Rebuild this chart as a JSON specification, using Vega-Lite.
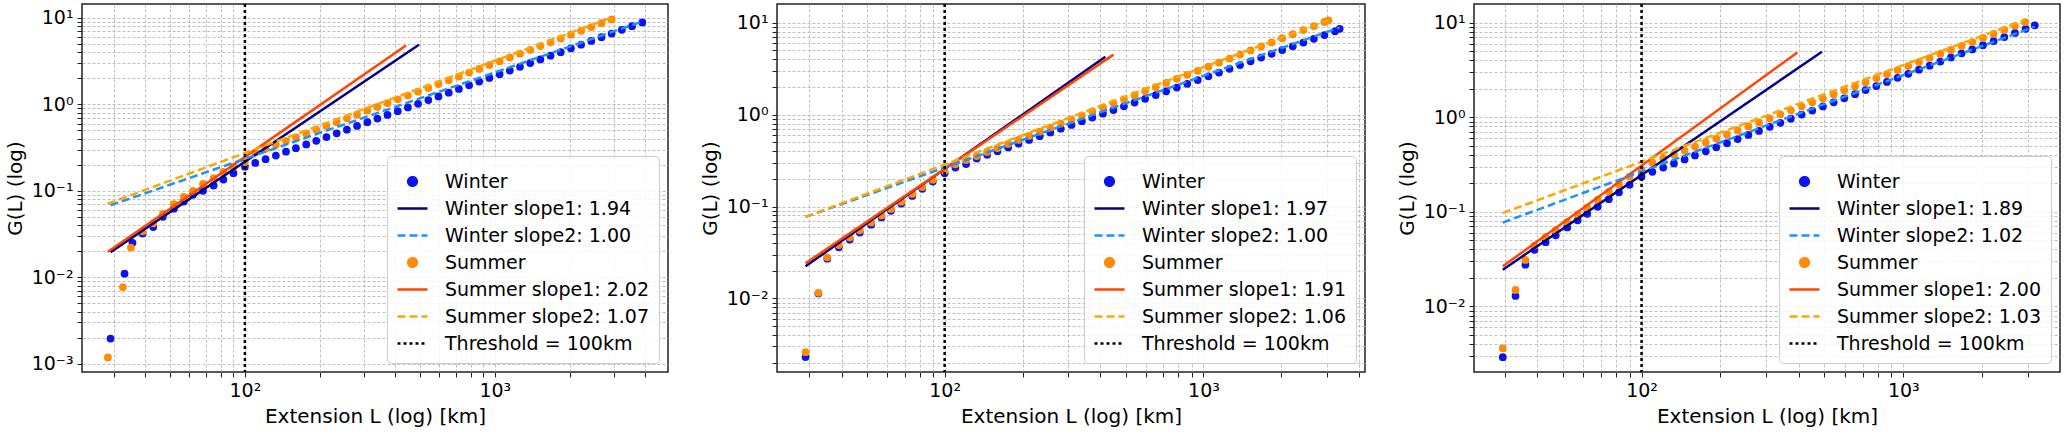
{
  "$schema": "https://vega.github.io/schema/vega-lite/v6.json",
  "padding": {"left": 4, "top": 2, "right": 0, "bottom": 0},
  "spacing": 30,
  "resolve": {"scale": {"color": "independent"}, "legend": {"color": "independent"}},
  "config": {
    "font": "DejaVu Sans",
    "view": {"stroke": "#222", "strokeWidth": 1.5},
    "axis": {"labelFontSize": 19, "titleFontSize": 20, "titleFontWeight": "normal", "labelColor": "#000", "titleColor": "#000",
      "domain": false, "tickColor": "#222", "tickSize": 5, "gridColor": "#b0b0b0", "gridDash": [3, 2], "gridOpacity": 0.8, "labelFlush": false, "labelPadding": 4, "titlePadding": 6},
    "legend": {"orient": "bottom-right", "offset": 9, "fillColor": "rgba(255,255,255,0.85)", "strokeColor": "#cccccc", "padding": 9,
      "cornerRadius": 4, "labelFontSize": 19, "labelColor": "#000", "labelLimit": 400, "rowPadding": 0, "symbolStrokeWidth": 2.5, "labelOffset": 16, "title": null,
      "symbolType": "stroke", "symbolSize": 900}
  },
  "datasets": {
    "p1": [
      {"x":29,"y":0.00195,"s":"Winter"},{"x":33,"y":0.011,"s":"Winter"},{"x":35.5,"y":0.025,"s":"Winter"},{"x":39,"y":0.032,"s":"Winter"},{"x":43,"y":0.038,"s":"Winter"},{"x":47,"y":0.05,"s":"Winter"},{"x":52,"y":0.062,"s":"Winter"},{"x":57,"y":0.075,"s":"Winter"},{"x":62,"y":0.09,"s":"Winter"},{"x":68,"y":0.1,"s":"Winter"},{"x":75,"y":0.115,"s":"Winter"},{"x":82,"y":0.135,"s":"Winter"},{"x":90,"y":0.16,"s":"Winter"},{"x":100,"y":0.19,"s":"Winter"},
      {"x":110,"y":0.21,"s":"Winter"},{"x":121,"y":0.232,"s":"Winter"},{"x":133,"y":0.256,"s":"Winter"},{"x":146,"y":0.283,"s":"Winter"},{"x":160,"y":0.311,"s":"Winter"},{"x":176,"y":0.344,"s":"Winter"},{"x":193,"y":0.379,"s":"Winter"},{"x":212,"y":0.418,"s":"Winter"},{"x":233,"y":0.462,"s":"Winter"},{"x":256,"y":0.51,"s":"Winter"},{"x":281,"y":0.562,"s":"Winter"},{"x":309,"y":0.621,"s":"Winter"},{"x":339,"y":0.685,"s":"Winter"},{"x":372,"y":0.755,"s":"Winter"},{"x":409,"y":0.834,"s":"Winter"},{"x":449,"y":0.92,"s":"Winter"},{"x":493,"y":1.014,"s":"Winter"},{"x":542,"y":1.121,"s":"Winter"},{"x":595,"y":1.236,"s":"Winter"},{"x":654,"y":1.365,"s":"Winter"},{"x":718,"y":1.506,"s":"Winter"},{"x":789,"y":1.662,"s":"Winter"},{"x":866,"y":1.833,"s":"Winter"},{"x":951,"y":2.022,"s":"Winter"},{"x":1045,"y":2.233,"s":"Winter"},{"x":1148,"y":2.464,"s":"Winter"},{"x":1261,"y":2.719,"s":"Winter"},{"x":1385,"y":3.002,"s":"Winter"},{"x":1521,"y":3.312,"s":"Winter"},{"x":1671,"y":3.656,"s":"Winter"},{"x":1835,"y":4.02,"s":"Winter"},{"x":2016,"y":4.452,"s":"Winter"},{"x":2214,"y":4.912,"s":"Winter"},{"x":2432,"y":5.421,"s":"Winter"},{"x":2671,"y":5.981,"s":"Winter"},{"x":2934,"y":6.601,"s":"Winter"},{"x":3223,"y":7.288,"s":"Winter"},{"x":3540,"y":8.039,"s":"Winter"},{"x":3890,"y":8.879,"s":"Winter"},
      {"x":28.3,"y":0.00118,"s":"Summer"},{"x":32.5,"y":0.0077,"s":"Summer"},{"x":35,"y":0.022,"s":"Summer"},{"x":39,"y":0.034,"s":"Summer"},{"x":43,"y":0.042,"s":"Summer"},{"x":47,"y":0.054,"s":"Summer"},{"x":52,"y":0.07,"s":"Summer"},{"x":57,"y":0.085,"s":"Summer"},{"x":62,"y":0.1,"s":"Summer"},{"x":68,"y":0.12,"s":"Summer"},{"x":75,"y":0.14,"s":"Summer"},{"x":82,"y":0.165,"s":"Summer"},{"x":90,"y":0.19,"s":"Summer"},{"x":100,"y":0.215,"s":"Summer"},
      {"x":110,"y":0.277,"s":"Summer"},{"x":121,"y":0.307,"s":"Summer"},{"x":133,"y":0.34,"s":"Summer"},{"x":146,"y":0.376,"s":"Summer"},{"x":160,"y":0.415,"s":"Summer"},{"x":176,"y":0.46,"s":"Summer"},{"x":193,"y":0.509,"s":"Summer"},{"x":212,"y":0.563,"s":"Summer"},{"x":233,"y":0.623,"s":"Summer"},{"x":256,"y":0.69,"s":"Summer"},{"x":281,"y":0.763,"s":"Summer"},{"x":309,"y":0.846,"s":"Summer"},{"x":339,"y":0.934,"s":"Summer"},{"x":372,"y":1.033,"s":"Summer"},{"x":409,"y":1.144,"s":"Summer"},{"x":449,"y":1.266,"s":"Summer"},{"x":493,"y":1.4,"s":"Summer"},{"x":542,"y":1.551,"s":"Summer"},{"x":595,"y":1.716,"s":"Summer"},{"x":654,"y":1.9,"s":"Summer"},{"x":718,"y":2.1,"s":"Summer"},{"x":789,"y":2.33,"s":"Summer"},{"x":866,"y":2.57,"s":"Summer"},{"x":951,"y":2.85,"s":"Summer"},{"x":1045,"y":3.15,"s":"Summer"},{"x":1148,"y":3.49,"s":"Summer"},{"x":1261,"y":3.86,"s":"Summer"},{"x":1385,"y":4.27,"s":"Summer"},{"x":1521,"y":4.73,"s":"Summer"},{"x":1671,"y":5.23,"s":"Summer"},{"x":1835,"y":5.77,"s":"Summer"},{"x":2016,"y":6.41,"s":"Summer"},{"x":2214,"y":7.09,"s":"Summer"},{"x":2432,"y":7.85,"s":"Summer"},{"x":2671,"y":8.69,"s":"Summer"},{"x":2934,"y":9.61,"s":"Summer"}
    ],
    "l1": [
      {"x":29,"y":0.0195,"s":"Winter slope1: 1.94"},{"x":497,"y":4.9,"s":"Winter slope1: 1.94"},
      {"x":29,"y":0.068,"s":"Winter slope2: 1.00"},{"x":3890,"y":9.1,"s":"Winter slope2: 1.00"},
      {"x":28.3,"y":0.0197,"s":"Summer slope1: 2.02"},{"x":441,"y":4.8,"s":"Summer slope1: 2.02"},
      {"x":28.3,"y":0.071,"s":"Summer slope2: 1.07"},{"x":2934,"y":10.1,"s":"Summer slope2: 1.07"},
      {"x":100,"s":"Threshold = 100km"}
    ],
    "p2": [
      {"x":29,"y":0.0023,"s":"Winter"},{"x":32.5,"y":0.0113,"s":"Winter"},{"x":35.2,"y":0.027,"s":"Winter"},{"x":39,"y":0.036,"s":"Winter"},{"x":43,"y":0.0436,"s":"Winter"},{"x":47,"y":0.052,"s":"Winter"},{"x":52,"y":0.0634,"s":"Winter"},{"x":57,"y":0.076,"s":"Winter"},{"x":62,"y":0.0897,"s":"Winter"},{"x":68,"y":0.1076,"s":"Winter"},{"x":75,"y":0.1305,"s":"Winter"},{"x":82,"y":0.1556,"s":"Winter"},{"x":90,"y":0.187,"s":"Winter"},{"x":100,"y":0.23,"s":"Winter"},
      {"x":110,"y":0.265,"s":"Winter"},{"x":121,"y":0.29,"s":"Winter"},{"x":133,"y":0.3325,"s":"Winter"},{"x":146,"y":0.365,"s":"Winter"},{"x":160,"y":0.4,"s":"Winter"},{"x":176,"y":0.44,"s":"Winter"},{"x":193,"y":0.4825,"s":"Winter"},{"x":212,"y":0.53,"s":"Winter"},{"x":233,"y":0.5825,"s":"Winter"},{"x":256,"y":0.64,"s":"Winter"},{"x":281,"y":0.7025,"s":"Winter"},{"x":309,"y":0.7725,"s":"Winter"},{"x":339,"y":0.8475,"s":"Winter"},{"x":372,"y":0.93,"s":"Winter"},{"x":409,"y":1.0225,"s":"Winter"},{"x":449,"y":1.1225,"s":"Winter"},{"x":493,"y":1.2325,"s":"Winter"},{"x":542,"y":1.355,"s":"Winter"},{"x":595,"y":1.4875,"s":"Winter"},{"x":654,"y":1.635,"s":"Winter"},{"x":718,"y":1.795,"s":"Winter"},{"x":789,"y":1.9725,"s":"Winter"},{"x":866,"y":2.165,"s":"Winter"},{"x":951,"y":2.3775,"s":"Winter"},{"x":1045,"y":2.6125,"s":"Winter"},{"x":1148,"y":2.87,"s":"Winter"},{"x":1261,"y":3.1525,"s":"Winter"},{"x":1385,"y":3.4625,"s":"Winter"},{"x":1521,"y":3.8025,"s":"Winter"},{"x":1671,"y":4.1775,"s":"Winter"},{"x":1835,"y":4.5875,"s":"Winter"},{"x":2016,"y":5.04,"s":"Winter"},{"x":2214,"y":5.535,"s":"Winter"},{"x":2432,"y":6.08,"s":"Winter"},{"x":2671,"y":6.6775,"s":"Winter"},{"x":2934,"y":7.335,"s":"Winter"},{"x":3223,"y":8.0575,"s":"Winter"},{"x":3360,"y":8.6,"s":"Winter"},
      {"x":29,"y":0.0026,"s":"Summer"},{"x":32.5,"y":0.0115,"s":"Summer"},{"x":35.2,"y":0.028,"s":"Summer"},{"x":39,"y":0.038,"s":"Summer"},{"x":43,"y":0.046,"s":"Summer"},{"x":47,"y":0.055,"s":"Summer"},{"x":52,"y":0.067,"s":"Summer"},{"x":57,"y":0.08,"s":"Summer"},{"x":62,"y":0.094,"s":"Summer"},{"x":68,"y":0.113,"s":"Summer"},{"x":75,"y":0.137,"s":"Summer"},{"x":82,"y":0.163,"s":"Summer"},{"x":90,"y":0.196,"s":"Summer"},{"x":100,"y":0.245,"s":"Summer"},
      {"x":110,"y":0.288,"s":"Summer"},{"x":121,"y":0.32,"s":"Summer"},{"x":133,"y":0.354,"s":"Summer"},{"x":146,"y":0.392,"s":"Summer"},{"x":160,"y":0.433,"s":"Summer"},{"x":176,"y":0.48,"s":"Summer"},{"x":193,"y":0.531,"s":"Summer"},{"x":212,"y":0.588,"s":"Summer"},{"x":233,"y":0.652,"s":"Summer"},{"x":256,"y":0.722,"s":"Summer"},{"x":281,"y":0.799,"s":"Summer"},{"x":309,"y":0.885,"s":"Summer"},{"x":339,"y":0.979,"s":"Summer"},{"x":372,"y":1.083,"s":"Summer"},{"x":409,"y":1.2,"s":"Summer"},{"x":449,"y":1.328,"s":"Summer"},{"x":493,"y":1.47,"s":"Summer"},{"x":542,"y":1.63,"s":"Summer"},{"x":595,"y":1.804,"s":"Summer"},{"x":654,"y":1.998,"s":"Summer"},{"x":718,"y":2.212,"s":"Summer"},{"x":789,"y":2.45,"s":"Summer"},{"x":866,"y":2.71,"s":"Summer"},{"x":951,"y":3.0,"s":"Summer"},{"x":1045,"y":3.33,"s":"Summer"},{"x":1148,"y":3.68,"s":"Summer"},{"x":1261,"y":4.08,"s":"Summer"},{"x":1385,"y":4.51,"s":"Summer"},{"x":1521,"y":5.0,"s":"Summer"},{"x":1671,"y":5.54,"s":"Summer"},{"x":1835,"y":6.11,"s":"Summer"},{"x":2016,"y":6.79,"s":"Summer"},{"x":2214,"y":7.51,"s":"Summer"},{"x":2432,"y":8.32,"s":"Summer"},{"x":2671,"y":9.21,"s":"Summer"},{"x":2934,"y":10.2,"s":"Summer"},{"x":3040,"y":10.6,"s":"Summer"}
    ],
    "l2": [
      {"x":29,"y":0.0224,"s":"Winter slope1: 1.97"},{"x":418,"y":4.27,"s":"Winter slope1: 1.97"},
      {"x":29,"y":0.077,"s":"Winter slope2: 1.00"},{"x":3360,"y":8.9,"s":"Winter slope2: 1.00"},
      {"x":29,"y":0.0241,"s":"Summer slope1: 1.91"},{"x":449,"y":4.5,"s":"Summer slope1: 1.91"},
      {"x":29,"y":0.077,"s":"Summer slope2: 1.06"},{"x":3040,"y":10.7,"s":"Summer slope2: 1.06"},
      {"x":100,"s":"Threshold = 100km"}
    ],
    "p3": [
      {"x":29.5,"y":0.0029,"s":"Winter"},{"x":33,"y":0.0129,"s":"Winter"},{"x":36,"y":0.0276,"s":"Winter"},{"x":39,"y":0.0396,"s":"Winter"},{"x":43,"y":0.0477,"s":"Winter"},{"x":47,"y":0.0564,"s":"Winter"},{"x":52,"y":0.0683,"s":"Winter"},{"x":57,"y":0.0812,"s":"Winter"},{"x":62,"y":0.0952,"s":"Winter"},{"x":68,"y":0.113,"s":"Winter"},{"x":75,"y":0.136,"s":"Winter"},{"x":82,"y":0.161,"s":"Winter"},{"x":90,"y":0.193,"s":"Winter"},{"x":100,"y":0.235,"s":"Winter"},
      {"x":110,"y":0.265,"s":"Winter"},{"x":121,"y":0.294,"s":"Winter"},{"x":133,"y":0.325,"s":"Winter"},{"x":146,"y":0.358,"s":"Winter"},{"x":160,"y":0.395,"s":"Winter"},{"x":176,"y":0.437,"s":"Winter"},{"x":193,"y":0.482,"s":"Winter"},{"x":212,"y":0.532,"s":"Winter"},{"x":233,"y":0.588,"s":"Winter"},{"x":256,"y":0.65,"s":"Winter"},{"x":281,"y":0.718,"s":"Winter"},{"x":309,"y":0.794,"s":"Winter"},{"x":339,"y":0.875,"s":"Winter"},{"x":372,"y":0.966,"s":"Winter"},{"x":409,"y":1.068,"s":"Winter"},{"x":449,"y":1.179,"s":"Winter"},{"x":493,"y":1.302,"s":"Winter"},{"x":542,"y":1.44,"s":"Winter"},{"x":595,"y":1.589,"s":"Winter"},{"x":654,"y":1.757,"s":"Winter"},{"x":718,"y":1.94,"s":"Winter"},{"x":789,"y":2.143,"s":"Winter"},{"x":866,"y":2.366,"s":"Winter"},{"x":951,"y":2.613,"s":"Winter"},{"x":1045,"y":2.887,"s":"Winter"},{"x":1148,"y":3.19,"s":"Winter"},{"x":1261,"y":3.52,"s":"Winter"},{"x":1385,"y":3.89,"s":"Winter"},{"x":1521,"y":4.3,"s":"Winter"},{"x":1671,"y":4.75,"s":"Winter"},{"x":1835,"y":5.23,"s":"Winter"},{"x":2016,"y":5.79,"s":"Winter"},{"x":2214,"y":6.4,"s":"Winter"},{"x":2432,"y":7.07,"s":"Winter"},{"x":2671,"y":7.81,"s":"Winter"},{"x":2934,"y":8.63,"s":"Winter"},{"x":3180,"y":9.39,"s":"Winter"},
      {"x":29.5,"y":0.0036,"s":"Summer"},{"x":33,"y":0.0149,"s":"Summer"},{"x":36,"y":0.031,"s":"Summer"},{"x":39,"y":0.044,"s":"Summer"},{"x":43,"y":0.054,"s":"Summer"},{"x":47,"y":0.064,"s":"Summer"},{"x":52,"y":0.078,"s":"Summer"},{"x":57,"y":0.094,"s":"Summer"},{"x":62,"y":0.111,"s":"Summer"},{"x":68,"y":0.134,"s":"Summer"},{"x":75,"y":0.163,"s":"Summer"},{"x":82,"y":0.195,"s":"Summer"},{"x":90,"y":0.235,"s":"Summer"},{"x":100,"y":0.28,"s":"Summer"},
      {"x":110,"y":0.331,"s":"Summer"},{"x":121,"y":0.366,"s":"Summer"},{"x":133,"y":0.404,"s":"Summer"},{"x":146,"y":0.445,"s":"Summer"},{"x":160,"y":0.49,"s":"Summer"},{"x":176,"y":0.542,"s":"Summer"},{"x":193,"y":0.596,"s":"Summer"},{"x":212,"y":0.658,"s":"Summer"},{"x":233,"y":0.726,"s":"Summer"},{"x":256,"y":0.801,"s":"Summer"},{"x":281,"y":0.883,"s":"Summer"},{"x":309,"y":0.975,"s":"Summer"},{"x":339,"y":1.074,"s":"Summer"},{"x":372,"y":1.184,"s":"Summer"},{"x":409,"y":1.307,"s":"Summer"},{"x":449,"y":1.441,"s":"Summer"},{"x":493,"y":1.589,"s":"Summer"},{"x":542,"y":1.755,"s":"Summer"},{"x":595,"y":1.934,"s":"Summer"},{"x":654,"y":2.135,"s":"Summer"},{"x":718,"y":2.354,"s":"Summer"},{"x":789,"y":2.598,"s":"Summer"},{"x":866,"y":2.863,"s":"Summer"},{"x":951,"y":3.16,"s":"Summer"},{"x":1045,"y":3.48,"s":"Summer"},{"x":1148,"y":3.84,"s":"Summer"},{"x":1261,"y":4.24,"s":"Summer"},{"x":1385,"y":4.68,"s":"Summer"},{"x":1521,"y":5.16,"s":"Summer"},{"x":1671,"y":5.69,"s":"Summer"},{"x":1835,"y":6.26,"s":"Summer"},{"x":2016,"y":6.92,"s":"Summer"},{"x":2214,"y":7.64,"s":"Summer"},{"x":2432,"y":8.42,"s":"Summer"},{"x":2671,"y":9.29,"s":"Summer"},{"x":2920,"y":10.19,"s":"Summer"}
    ],
    "l3": [
      {"x":29.5,"y":0.0244,"s":"Winter slope1: 1.89"},{"x":489,"y":4.93,"s":"Winter slope1: 1.89"},
      {"x":29.5,"y":0.077,"s":"Winter slope2: 1.02"},{"x":3180,"y":9.1,"s":"Winter slope2: 1.02"},
      {"x":29.5,"y":0.0265,"s":"Summer slope1: 2.00"},{"x":394,"y":4.86,"s":"Summer slope1: 2.00"},
      {"x":29.5,"y":0.097,"s":"Summer slope2: 1.03"},{"x":2920,"y":10.7,"s":"Summer slope2: 1.03"},
      {"x":100,"s":"Threshold = 100km"}
    ]
  },
  "hconcat": [
    {
      "width": 586, "height": 368,
      "encoding": {
        "color": {"field": "s", "type": "nominal",
          "scale": {"domain": ["Winter","Winter slope1: 1.94","Winter slope2: 1.00","Summer","Summer slope1: 2.02","Summer slope2: 1.07","Threshold = 100km"],
            "range": ["#0a14f0","#00008b","#1e90ff","#ff8c00","#ff4500","#ffa500","#000000"]},
          "legend": {"encode": {"symbols": {"update": {
            "shape": {"signal": "datum.value=='Winter'||datum.value=='Summer' ? 'circle' : 'stroke'"},
            "size": {"signal": "datum.value=='Winter'||datum.value=='Summer' ? 75 : 900"},
            "fill": {"signal": "datum.value=='Winter' ? '#0a14f0' : datum.value=='Summer' ? '#ff8c00' : 'transparent'"},
            "stroke": {"signal": "datum.value=='Winter'||datum.value=='Summer' ? 'transparent' : indexof(datum.value,'Winter slope1')>=0 ? '#00008b' : indexof(datum.value,'Winter slope2')>=0 ? '#1e90ff' : indexof(datum.value,'Summer slope1')>=0 ? '#ff4500' : indexof(datum.value,'Summer slope2')>=0 ? '#ffa500' : '#000000'"},
            "strokeDash": {"signal": "indexof(datum.value,'slope2')>=0 ? [8,4] : indexof(datum.value,'Threshold')>=0 ? [3,3] : [1,0]"},
            "opacity": {"value": 1}}}}}}
      },
      "layer": [
        {"data": {"name": "p1"}, "mark": {"type": "circle", "size": 60, "opacity": 1},
         "encoding": {
           "x": {"field": "x", "type": "quantitative", "scale": {"type": "log", "domain": [22.3, 4930], "nice": false},
             "axis": {"title": "Extension L (log) [km]", "values": [30,40,50,60,70,80,90,100,200,300,400,500,600,700,800,900,1000,2000,3000,4000], "labelExpr": "datum.value==100?'10²':datum.value==1000?'10³':''"}},
           "y": {"field": "y", "type": "quantitative", "scale": {"type": "log", "domain": [0.0008, 14.5], "nice": false},
             "axis": {"title": "G(L) (log)", "values": [0.001,0.002,0.003,0.004,0.005,0.006,0.007,0.008,0.009,0.01,0.02,0.03,0.04,0.05,0.06,0.07,0.08,0.09,0.1,0.2,0.3,0.4,0.5,0.6,0.7,0.8,0.9,1,2,3,4,5,6,7,8,9,10], "labelExpr": "datum.value==10?'10¹':datum.value==1?'10⁰':datum.value==0.1?'10⁻¹':datum.value==0.01?'10⁻²':datum.value==0.001?'10⁻³':''"}}
         }},
        {"data": {"name": "l1"}, "transform": [{"filter": "indexof(datum.s,'slope1')>=0"}], "mark": {"type": "line", "strokeWidth": 2.5},
         "encoding": {"x": {"field": "x", "type": "quantitative"}, "y": {"field": "y", "type": "quantitative"}}},
        {"data": {"name": "l1"}, "transform": [{"filter": "indexof(datum.s,'slope2')>=0"}], "mark": {"type": "line", "strokeWidth": 2.5, "strokeDash": [8, 4]},
         "encoding": {"x": {"field": "x", "type": "quantitative"}, "y": {"field": "y", "type": "quantitative"}}},
        {"data": {"name": "l1"}, "transform": [{"filter": "indexof(datum.s,'Threshold')>=0"}], "mark": {"type": "rule", "strokeWidth": 2.5, "strokeDash": [3, 3]},
         "encoding": {"x": {"field": "x", "type": "quantitative"}}}
      ]
    },
    {
      "width": 588, "height": 368,
      "encoding": {
        "color": {"field": "s", "type": "nominal",
          "scale": {"domain": ["Winter","Winter slope1: 1.97","Winter slope2: 1.00","Summer","Summer slope1: 1.91","Summer slope2: 1.06","Threshold = 100km"],
            "range": ["#0a14f0","#00008b","#1e90ff","#ff8c00","#ff4500","#ffa500","#000000"]},
          "legend": {"encode": {"symbols": {"update": {
            "shape": {"signal": "datum.value=='Winter'||datum.value=='Summer' ? 'circle' : 'stroke'"},
            "size": {"signal": "datum.value=='Winter'||datum.value=='Summer' ? 75 : 900"},
            "fill": {"signal": "datum.value=='Winter' ? '#0a14f0' : datum.value=='Summer' ? '#ff8c00' : 'transparent'"},
            "stroke": {"signal": "datum.value=='Winter'||datum.value=='Summer' ? 'transparent' : indexof(datum.value,'Winter slope1')>=0 ? '#00008b' : indexof(datum.value,'Winter slope2')>=0 ? '#1e90ff' : indexof(datum.value,'Summer slope1')>=0 ? '#ff4500' : indexof(datum.value,'Summer slope2')>=0 ? '#ffa500' : '#000000'"},
            "strokeDash": {"signal": "indexof(datum.value,'slope2')>=0 ? [8,4] : indexof(datum.value,'Threshold')>=0 ? [3,3] : [1,0]"},
            "opacity": {"value": 1}}}}}}
      },
      "layer": [
        {"data": {"name": "p2"}, "mark": {"type": "circle", "size": 60, "opacity": 1},
         "encoding": {
           "x": {"field": "x", "type": "quantitative", "scale": {"type": "log", "domain": [22.5, 4210], "nice": false},
             "axis": {"title": "Extension L (log) [km]", "values": [30,40,50,60,70,80,90,100,200,300,400,500,600,700,800,900,1000,2000,3000,4000], "labelExpr": "datum.value==100?'10²':datum.value==1000?'10³':''"}},
           "y": {"field": "y", "type": "quantitative", "scale": {"type": "log", "domain": [0.00158, 16], "nice": false},
             "axis": {"title": "G(L) (log)", "values": [0.002,0.003,0.004,0.005,0.006,0.007,0.008,0.009,0.01,0.02,0.03,0.04,0.05,0.06,0.07,0.08,0.09,0.1,0.2,0.3,0.4,0.5,0.6,0.7,0.8,0.9,1,2,3,4,5,6,7,8,9,10], "labelExpr": "datum.value==10?'10¹':datum.value==1?'10⁰':datum.value==0.1?'10⁻¹':datum.value==0.01?'10⁻²':''"}}
         }},
        {"data": {"name": "l2"}, "transform": [{"filter": "indexof(datum.s,'slope1')>=0"}], "mark": {"type": "line", "strokeWidth": 2.5},
         "encoding": {"x": {"field": "x", "type": "quantitative"}, "y": {"field": "y", "type": "quantitative"}}},
        {"data": {"name": "l2"}, "transform": [{"filter": "indexof(datum.s,'slope2')>=0"}], "mark": {"type": "line", "strokeWidth": 2.5, "strokeDash": [8, 4]},
         "encoding": {"x": {"field": "x", "type": "quantitative"}, "y": {"field": "y", "type": "quantitative"}}},
        {"data": {"name": "l2"}, "transform": [{"filter": "indexof(datum.s,'Threshold')>=0"}], "mark": {"type": "rule", "strokeWidth": 2.5, "strokeDash": [3, 3]},
         "encoding": {"x": {"field": "x", "type": "quantitative"}}}
      ]
    },
    {
      "width": 586, "height": 368,
      "encoding": {
        "color": {"field": "s", "type": "nominal",
          "scale": {"domain": ["Winter","Winter slope1: 1.89","Winter slope2: 1.02","Summer","Summer slope1: 2.00","Summer slope2: 1.03","Threshold = 100km"],
            "range": ["#0a14f0","#00008b","#1e90ff","#ff8c00","#ff4500","#ffa500","#000000"]},
          "legend": {"encode": {"symbols": {"update": {
            "shape": {"signal": "datum.value=='Winter'||datum.value=='Summer' ? 'circle' : 'stroke'"},
            "size": {"signal": "datum.value=='Winter'||datum.value=='Summer' ? 75 : 900"},
            "fill": {"signal": "datum.value=='Winter' ? '#0a14f0' : datum.value=='Summer' ? '#ff8c00' : 'transparent'"},
            "stroke": {"signal": "datum.value=='Winter'||datum.value=='Summer' ? 'transparent' : indexof(datum.value,'Winter slope1')>=0 ? '#00008b' : indexof(datum.value,'Winter slope2')>=0 ? '#1e90ff' : indexof(datum.value,'Summer slope1')>=0 ? '#ff4500' : indexof(datum.value,'Summer slope2')>=0 ? '#ffa500' : '#000000'"},
            "strokeDash": {"signal": "indexof(datum.value,'slope2')>=0 ? [8,4] : indexof(datum.value,'Threshold')>=0 ? [3,3] : [1,0]"},
            "opacity": {"value": 1}}}}}}
      },
      "layer": [
        {"data": {"name": "p3"}, "mark": {"type": "circle", "size": 60, "opacity": 1},
         "encoding": {
           "x": {"field": "x", "type": "quantitative", "scale": {"type": "log", "domain": [22.9, 3970], "nice": false},
             "axis": {"title": "Extension L (log) [km]", "values": [30,40,50,60,70,80,90,100,200,300,400,500,600,700,800,900,1000,2000,3000], "labelExpr": "datum.value==100?'10²':datum.value==1000?'10³':''"}},
           "y": {"field": "y", "type": "quantitative", "scale": {"type": "log", "domain": [0.00202, 15.8], "nice": false},
             "axis": {"title": "G(L) (log)", "values": [0.003,0.004,0.005,0.006,0.007,0.008,0.009,0.01,0.02,0.03,0.04,0.05,0.06,0.07,0.08,0.09,0.1,0.2,0.3,0.4,0.5,0.6,0.7,0.8,0.9,1,2,3,4,5,6,7,8,9,10], "labelExpr": "datum.value==10?'10¹':datum.value==1?'10⁰':datum.value==0.1?'10⁻¹':datum.value==0.01?'10⁻²':''"}}
         }},
        {"data": {"name": "l3"}, "transform": [{"filter": "indexof(datum.s,'slope1')>=0"}], "mark": {"type": "line", "strokeWidth": 2.5},
         "encoding": {"x": {"field": "x", "type": "quantitative"}, "y": {"field": "y", "type": "quantitative"}}},
        {"data": {"name": "l3"}, "transform": [{"filter": "indexof(datum.s,'slope2')>=0"}], "mark": {"type": "line", "strokeWidth": 2.5, "strokeDash": [8, 4]},
         "encoding": {"x": {"field": "x", "type": "quantitative"}, "y": {"field": "y", "type": "quantitative"}}},
        {"data": {"name": "l3"}, "transform": [{"filter": "indexof(datum.s,'Threshold')>=0"}], "mark": {"type": "rule", "strokeWidth": 2.5, "strokeDash": [3, 3]},
         "encoding": {"x": {"field": "x", "type": "quantitative"}}}
      ]
    }
  ]
}
